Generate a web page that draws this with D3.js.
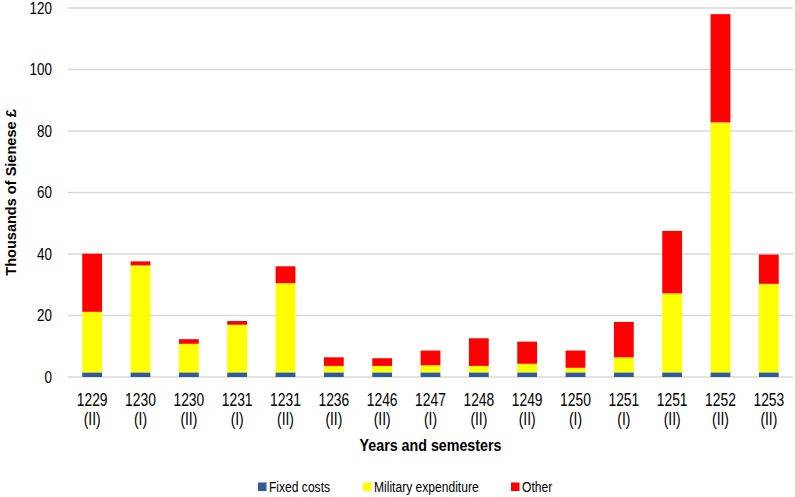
<!DOCTYPE html>
<html>
<head>
<meta charset="utf-8">
<script src="https://cdn.jsdelivr.net/npm/d3@7"></script>
<style>
  html, body { margin: 0; padding: 0; background: #fff; }
  text { font-family: "Liberation Sans", Arial, sans-serif; fill: #000; }
</style>
</head>
<body>
<svg id="chart" width="795" height="497"></svg>
<script>
const years = ["1229","1230","1230","1231","1231","1236","1246","1247","1248","1249","1250","1251","1251","1252","1253"];
const semesters = ["(II)","(I)","(II)","(I)","(II)","(II)","(II)","(I)","(II)","(II)","(I)","(I)","(II)","(II)","(II)"];
const fixedCosts = [1.5,1.5,1.5,1.5,1.5,1.5,1.5,1.5,1.5,1.5,1.5,1.5,1.5,1.5,1.5];
const military = [19.7,34.8,9.3,15.5,29.0,2.1,2.1,2.3,2.1,2.8,1.5,4.9,25.7,81.3,28.8];
const other = [18.9,1.3,1.5,1.2,5.5,2.8,2.5,4.8,9.0,7.2,5.6,11.5,20.3,35.2,9.5];
const seriesNames = ["Fixed costs","Military expenditure","Other"];
const seriesColors = ["#2F5B9A","#FFFF00","#FF0000"];
const yTicks = [0,20,40,60,80,100,120];

const svg = d3.select("#chart");
const m = {left: 68, right: 2, top: 8, bottom: 120};
const W = 795, H = 497;
const x0 = m.left, x1 = W - m.right, y0 = H - m.bottom, y1 = m.top;

const keys = years.map((y,i)=>i);
const rows = keys.map(i => ({i, "Fixed costs": fixedCosts[i], "Military expenditure": military[i], "Other": other[i]}));

const x = d3.scaleBand().domain(keys).range([x0, x1]).paddingInner(0.59).paddingOuter(0.295);
const y = d3.scaleLinear().domain([0,120]).range([y0, y1]);

// gridlines
svg.append("g").selectAll("line").data(yTicks).join("line")
  .attr("x1", x0).attr("x2", x1)
  .attr("y1", d=>y(d)).attr("y2", d=>y(d))
  .attr("stroke", "#d9d9d9").attr("stroke-width", 1.5);

// y tick labels
svg.append("g").selectAll("text").data(yTicks).join("text")
  .attr("transform", d=>`translate(52,${y(d)}) scale(0.84,1)`).attr("dy", "0.36em")
  .attr("text-anchor", "end").style("font-size", "16px")
  .text(d=>d);

// bars
const stack = d3.stack().keys(seriesNames)(rows);
svg.append("g").selectAll("g").data(stack).join("g")
  .attr("fill", (d,i)=>seriesColors[i])
  .selectAll("rect").data(d=>d).join("rect")
  .attr("x", d=>x(d.data.i))
  .attr("width", x.bandwidth())
  .attr("y", d=>y(d[1]))
  .attr("height", d=>y(d[0]) - y(d[1]));

// x labels
const xl = svg.append("g").selectAll("text").data(keys).join("text")
  .attr("transform", d=>`translate(${x(d)+x.bandwidth()/2},0) scale(0.77,1)`)
  .attr("text-anchor", "middle").style("font-size", "18px");
xl.append("tspan").attr("x", 0).attr("y", 406.5).text(d=>years[d]);
xl.append("tspan").attr("x", 0).attr("y", 425).text(d=>semesters[d]);

// axis titles
svg.append("text").attr("transform", `translate(${(x0+x1)/2},451) scale(0.865,1)`).attr("text-anchor", "middle")
  .style("font-size", "16.5px").style("font-weight", "bold").text("Years and semesters");
svg.append("text").attr("transform", `translate(16,${(y0+y1)/2}) rotate(-90) scale(0.97,1)`)
  .attr("text-anchor", "middle").style("font-size", "15px").style("font-weight", "bold")
  .text("Thousands of Sienese £");

// legend
const legX = [258, 363, 511];
const lg = svg.append("g").selectAll("g").data(seriesNames).join("g")
  .attr("transform", (d,i)=>`translate(${legX[i]},482.5)`);
lg.append("rect").attr("width", 8.5).attr("height", 8.5).attr("fill", (d,i)=>seriesColors[i]);
lg.append("text").attr("transform", "translate(11,9.5) scale(0.78,1)").style("font-size", "15.5px").text(d=>d);
</script>
</body>
</html>
